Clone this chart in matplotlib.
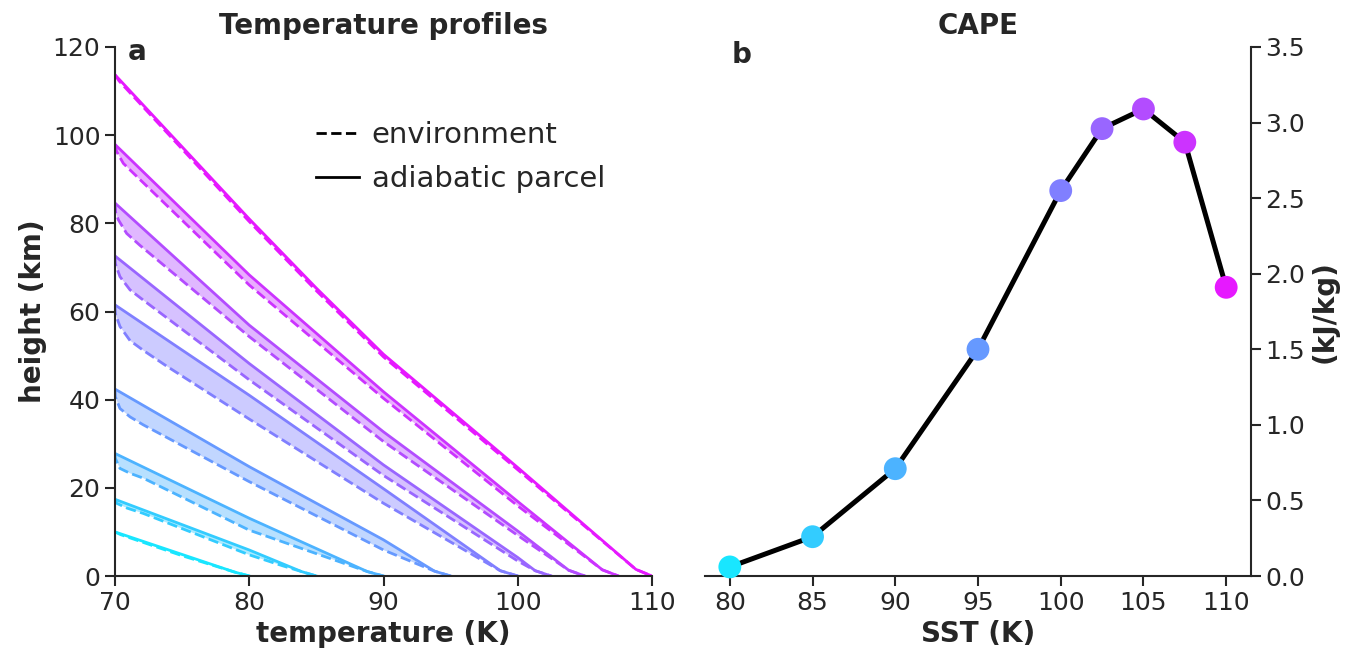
import numpy as np
import matplotlib
matplotlib.use('Agg')
import matplotlib.pyplot as plt
from matplotlib.lines import Line2D

# Surface temperatures and CAPE
sst = [80, 85, 90, 95, 100, 102.5, 105, 107.5, 110]
cape = [0.06, 0.26, 0.71, 1.50, 2.55, 2.96, 3.09, 2.87, 1.91]

# Adiabatic parcel profiles (temperature in K, height in km)
parcel_temp = [
    [70, 78.9, 80],
    [70, 80, 83.9, 85],
    [70, 80, 88.8, 90],
    [70, 80, 90, 93.8, 95],
    [70, 80, 90, 98.7, 100],
    [70, 80, 90, 100, 101.3, 102.5],
    [70, 80, 90, 100, 103.8, 105],
    [70, 80, 90, 100, 106.3, 107.5],
    [70, 80, 85, 90, 100, 108.8, 110],
]
parcel_height = [
    [10.0, 0.9, 0],
    [17.4, 5.9, 1.0, 0],
    [27.8, 13.1, 1.0, 0],
    [42.4, 24.8, 8.2, 1.1, 0],
    [61.5, 41.0, 19.8, 1.2, 0],
    [72.6, 48.2, 25.2, 4.2, 1.2, 0],
    [84.6, 56.9, 32.7, 10.2, 1.3, 0],
    [97.9, 68.3, 41.8, 16.9, 1.4, 0],
    [113.7, 81.0, 65.3, 50.3, 24.6, 1.5, 0],
]

# Environment profiles
env_temp = [
    [70, 70.4, 75, 78.9, 80],
    [70, 70.12, 70.9, 72.1, 80, 82.5, 83.9, 85],
    [70, 70.02, 70.37, 71.12, 72.1, 80, 86, 88.8, 90],
    [70, 70.02, 70.37, 71.12, 72.1, 80, 90, 93.8, 95],
    [70, 70.02, 70.37, 71.12, 72.1, 73.85, 80, 90, 98.7, 100],
    [70, 70.02, 70.37, 71.12, 72.1, 80, 90, 100, 101.3, 102.5],
    [70, 70.05, 70.25, 70.87, 71.86, 80, 90, 100, 103.8, 105],
    [70, 70.12, 70.62, 71.36, 80, 90, 100, 106.3, 107.5],
    [70, 70.3, 80, 85, 90, 100, 108.8, 110],
]
env_height = [
    [10.0, 9.4, 4.6, 0.9, 0],
    [17.4, 16.5, 15.4, 14.2, 4.8, 2.3, 1.0, 0],
    [27.8, 26.7, 24.4, 23.3, 22.2, 10.4, 4.0, 1.0, 0],
    [42.4, 40.7, 38.0, 36.1, 34.3, 21.4, 5.9, 1.1, 0],
    [61.5, 59.6, 56.6, 53.4, 51.2, 47.6, 35.6, 16.5, 1.2, 0],
    [72.6, 70.9, 67.9, 64.9, 62.6, 44.5, 22.8, 3.4, 1.2, 0],
    [84.6, 82.5, 80.8, 77.7, 75.0, 54.3, 30.5, 9.2, 1.3, 0],
    [97.9, 96.3, 93.6, 91.4, 66.0, 40.3, 15.9, 1.4, 0],
    [113.7, 112.3, 80.4, 64.7, 49.7, 24.1, 1.5, 0],
]

# Estilo
dark = '#262626'
plt.rcParams.update({
    'font.family': 'DejaVu Sans',
    'text.color': dark,
    'axes.labelcolor': dark,
    'axes.edgecolor': dark,
    'xtick.color': dark,
    'ytick.color': dark,
    'axes.linewidth': 1.5,
    'xtick.major.width': 1.5,
    'ytick.major.width': 1.5,
    'xtick.major.size': 7,
    'ytick.major.size': 7,
    'xtick.labelsize': 18,
    'ytick.labelsize': 18,
})

fig = plt.figure(figsize=(13.48, 6.48), dpi=100)
ax1 = fig.add_axes([115 / 1348, 72 / 648, 537 / 1348, 529 / 648])
ax2 = fig.add_axes([705 / 1348, 72 / 648, 546 / 1348, 529 / 648])

colors = plt.cm.cool(np.linspace(0.1, 0.9, len(sst)))

# Painel a: perfis de temperatura
for i in range(len(sst)):
    pT = np.array(parcel_temp[i])
    pz = np.array(parcel_height[i])
    eT = np.array(env_temp[i])
    ez = np.array(env_height[i])
    ax1.fill(np.r_[pT, eT[::-1]], np.r_[pz, ez[::-1]],
             color=colors[i], alpha=0.4, lw=0)
    ax1.plot(eT, ez, '--', color=colors[i], lw=2.0)
    ax1.plot(pT, pz, '-', color=colors[i], lw=2.0)

ax1.set_xlim(70, 110)
ax1.set_ylim(0, 120)
ax1.set_xticks([70, 80, 90, 100, 110])
ax1.set_yticks(np.arange(0, 121, 20))
ax1.spines['top'].set_visible(False)
ax1.spines['right'].set_visible(False)
ax1.set_xlabel('temperature (K)', fontsize=20, fontweight='bold')
ax1.set_ylabel('height (km)', fontsize=20, fontweight='bold')
ax1.set_title('Temperature profiles', fontsize=20, fontweight='bold', pad=9)
ax1.text(0.023, 0.99, 'a', transform=ax1.transAxes, fontsize=20,
         fontweight='bold', va='center', ha='left')

handles = [Line2D([], [], color='k', ls='--', lw=2),
           Line2D([], [], color='k', ls='-', lw=2)]
ax1.legend(handles, ['environment', 'adiabatic parcel'], loc='upper left',
           bbox_to_anchor=(0.326, 0.91), frameon=False, fontsize=21,
           handlelength=1.45, handletextpad=0.45, labelspacing=0.55)

# Painel b: CAPE
ax2.plot(sst, cape, color='k', lw=3.6, zorder=2)
ax2.scatter(sst, cape, c=colors, s=270, zorder=3, edgecolors='none',
            clip_on=False)
ax2.set_xlim(78.5, 111.5)
ax2.set_ylim(0, 3.5)
ax2.set_xticks([80, 85, 90, 95, 100, 105, 110])
ax2.set_yticks(np.arange(0, 3.51, 0.5))
ax2.set_yticklabels([f'{v:.1f}' for v in np.arange(0, 3.51, 0.5)])
ax2.yaxis.tick_right()
ax2.yaxis.set_label_position('right')
ax2.spines['top'].set_visible(False)
ax2.spines['left'].set_visible(False)
ax2.set_xlabel('SST (K)', fontsize=20, fontweight='bold')
ax2.set_ylabel('(kJ/kg)', fontsize=20, fontweight='bold')
ax2.set_title('CAPE', fontsize=20, fontweight='bold', pad=9)
ax2.text(0.048, 0.985, 'b', transform=ax2.transAxes, fontsize=20,
         fontweight='bold', va='center', ha='left')

fig.savefig('out.png', dpi=100)
